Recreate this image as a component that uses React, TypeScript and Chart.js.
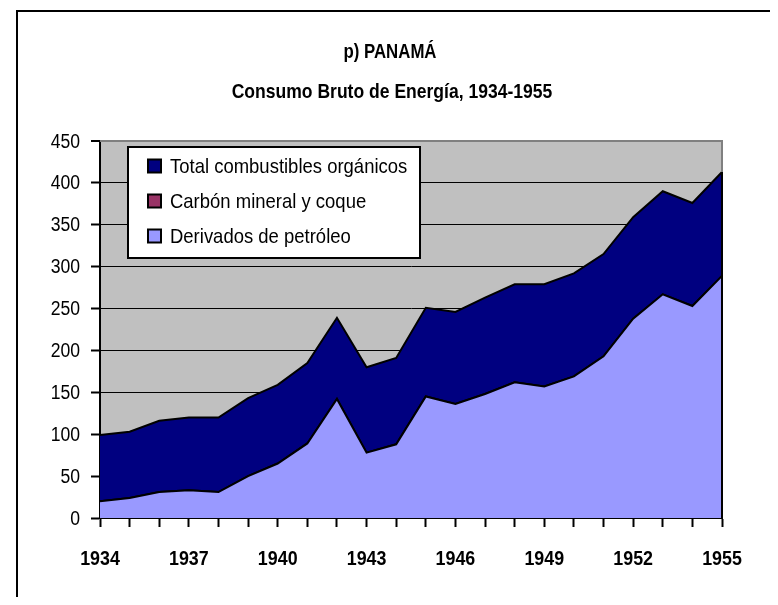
import React, { useEffect, useRef } from "react";
import { Chart, registerables } from "chart.js";

Chart.register(...registerables);

const years = [
  "1934", "1935", "1936", "1937", "1938", "1939", "1940", "1941", "1942", "1943", "1944",
  "1945", "1946", "1947", "1948", "1949", "1950", "1951", "1952", "1953", "1954", "1955",
];
const derivadosPetroleo = [20, 24, 31, 33, 31, 50, 65, 89, 142, 78, 88, 145, 136, 148, 162, 157, 169, 193, 238, 267, 253, 289];
const carbonMineral = [0, 0, 0, 0, 0, 0, 0, 0, 0, 0, 0, 0, 0, 0, 0, 0, 0, 0, 0, 0, 0, 0];
const combustiblesOrganicos = [79, 79, 85, 87, 89, 93, 94, 96, 97, 102, 103, 106, 110, 115, 117, 122, 123, 122, 121, 123, 123, 124];
const yTicks = [0, 50, 100, 150, 200, 250, 300, 350, 400, 450];

const titleLines = ["p) PANAMÁ", "Consumo Bruto de Energía, 1934-1955"];
const legendItems = [
  { label: "Total combustibles orgánicos", color: "#000080" },
  { label: "Carbón mineral y coque", color: "#993366" },
  { label: "Derivados de petróleo", color: "#9999FF" },
];

const FONT = "'Liberation Sans', Arial, sans-serif";

function narrowText(ctx: CanvasRenderingContext2D, text: string, x: number, y: number, font: string, align: CanvasTextAlign, f: number) {
  ctx.save();
  ctx.font = font;
  ctx.textAlign = align;
  ctx.textBaseline = "middle";
  ctx.fillStyle = "#000";
  ctx.translate(x, y);
  ctx.scale(f, 1);
  ctx.fillText(text, 0, 0);
  ctx.restore();
}

export default function App() {
  const ref = useRef<HTMLCanvasElement | null>(null);

  useEffect(() => {
    document.body.style.overflow = "hidden";
    const canvas = ref.current;
    if (!canvas) return;

    const decor = {
      id: "decor",
      beforeDraw(chart: any) {
        const { ctx, chartArea: a } = chart;
        ctx.save();
        ctx.fillStyle = "#C0C0C0";
        ctx.fillRect(a.left, a.top, a.right - a.left, a.bottom - a.top);
        ctx.restore();
      },
      afterDatasetsDraw(chart: any) {
        const { ctx, chartArea: a, scales } = chart;
        const last = years.length - 1;
        const topVal = derivadosPetroleo[last] + carbonMineral[last] + combustiblesOrganicos[last];
        const yTop = scales.y.getPixelForValue(topVal);
        ctx.save();
        ctx.lineWidth = 2;
        ctx.strokeStyle = "#808080";
        ctx.beginPath();
        ctx.moveTo(a.left, a.top);
        ctx.lineTo(a.right, a.top);
        ctx.lineTo(a.right, yTop);
        ctx.stroke();
        ctx.strokeStyle = "#000";
        ctx.beginPath();
        ctx.moveTo(a.right, yTop);
        ctx.lineTo(a.right, a.bottom);
        ctx.stroke();
        ctx.restore();
      },
      afterDraw(chart: any) {
        const { ctx, chartArea: a, scales } = chart;
        // titles
        narrowText(ctx, titleLines[0], 382, 44, `bold 21px ${FONT}`, "center", 0.8);
        narrowText(ctx, titleLines[1], 384, 84, `bold 21px ${FONT}`, "center", 0.835);
        // axis labels
        yTicks.forEach((v) => {
          narrowText(ctx, String(v), a.left - 20, scales.y.getPixelForValue(v) + 1, `20px ${FONT}`, "right", 0.88);
        });
        years.forEach((yr, i) => {
          if (i % 3 !== 0) return;
          narrowText(ctx, yr, scales.x.getPixelForValue(i), a.bottom + 41, `bold 21px ${FONT}`, "center", 0.85);
        });
        // legend
        const lx = a.left + 28;
        const ly = a.top + 6;
        const lw = 292;
        const lh = 111;
        ctx.save();
        ctx.fillStyle = "#fff";
        ctx.fillRect(lx, ly, lw, lh);
        ctx.lineWidth = 2;
        ctx.strokeStyle = "#000";
        ctx.strokeRect(lx, ly, lw, lh);
        legendItems.forEach((it, i) => {
          const cy = ly + 19 + i * 35;
          ctx.fillStyle = it.color;
          ctx.fillRect(lx + 20, cy - 6.5, 13, 13);
          ctx.strokeStyle = "#000";
          ctx.lineWidth = 2;
          ctx.strokeRect(lx + 20, cy - 6.5, 13, 13);
        });
        ctx.restore();
        legendItems.forEach((it, i) => {
          const cy = ly + 19 + i * 35;
          narrowText(ctx, it.label, lx + 42, cy + 1, `21px ${FONT}`, "left", 0.88);
        });
      },
    };

    const chart = new Chart(canvas, {
      type: "line",
      data: {
        labels: years,
        datasets: [
          {
            label: "Derivados de petróleo",
            data: derivadosPetroleo,
            backgroundColor: "#9999FF",
            borderColor: "#000",
            borderWidth: 2,
            fill: "origin",
            pointRadius: 0,
            tension: 0,
          },
          {
            label: "Carbón mineral y coque",
            data: carbonMineral,
            backgroundColor: "#993366",
            borderColor: "#000",
            borderWidth: 2,
            fill: "-1",
            pointRadius: 0,
            tension: 0,
          },
          {
            label: "Total combustibles orgánicos",
            data: combustiblesOrganicos,
            backgroundColor: "#000080",
            borderColor: "#000",
            borderWidth: 2,
            fill: "-1",
            pointRadius: 0,
            tension: 0,
          },
        ],
      },
      options: {
        responsive: false,
        animation: false,
        devicePixelRatio: 1,
        layout: { padding: { left: 0, top: 133, right: 48, bottom: 0 } },
        plugins: {
          legend: { display: false },
          title: { display: false },
          tooltip: { enabled: false },
        },
        scales: {
          x: {
            type: "category",
            offset: false,
            afterFit(scale: any) {
              scale.height = 79;
            },
            border: { display: true, color: "#000", width: 2 },
            grid: {
              drawOnChartArea: false,
              drawTicks: true,
              tickLength: 9,
              tickColor: "#000",
              tickWidth: 2,
            },
            ticks: {
              display: false,
              autoSkip: false,
              maxRotation: 0,
              minRotation: 0,
            },
          },
          y: {
            stacked: true,
            min: 0,
            max: 450,
            afterFit(scale: any) {
              scale.width = 92;
            },
            afterBuildTicks(scale: any) {
              scale.ticks = yTicks.map((v) => ({ value: v }));
            },
            border: { display: true, color: "#000", width: 2 },
            grid: {
              color: (c: any) => (c.tick && c.tick.value === 450 ? "#808080" : "#000"),
              lineWidth: (c: any) => (c.tick && c.tick.value === 450 ? 2 : 1),
              tickColor: "#000",
              tickWidth: 2,
              tickLength: 9,
            },
            ticks: {
              display: false,
            },
          },
        },
      } as any,
      plugins: [decor],
    });

    return () => chart.destroy();
  }, []);

  return (
    <div style={{ position: "relative", width: 762, height: 589 }}>
      <div
        style={{
          position: "absolute",
          left: 8,
          top: 2,
          width: 762,
          height: 587,
          borderLeft: "2px solid #000",
          borderTop: "2px solid #000",
          boxSizing: "border-box",
        }}
      />
      <canvas
        ref={ref}
        width={762}
        height={589}
        style={{ position: "absolute", left: 0, top: 0, width: 762, height: 589 }}
      />
    </div>
  );
}
